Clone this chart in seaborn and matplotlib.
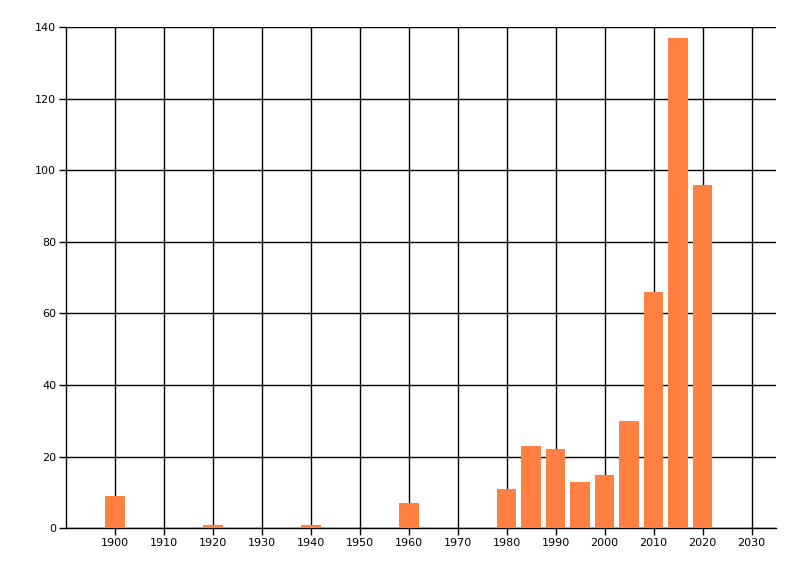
import matplotlib
matplotlib.use("Agg")
import matplotlib.pyplot as plt
import seaborn as sns
import pandas as pd

# --- DATA ---
years = [1900, 1920, 1940, 1960, 1980, 1985, 1990, 1995, 2000, 2005, 2010, 2015, 2020]
counts = [9, 1, 1, 7, 11, 23, 22, 13, 15, 30, 66, 137, 96]
x_ticks = list(range(1900, 2031, 10))
y_ticks = list(range(0, 141, 20))

BAR_COLOR = "#FF8040"

sns.set_style("white")
plt.rcParams['font.family'] = ['DejaVu Sans']

df = pd.DataFrame({"year": years, "count": counts})

fig, ax = plt.subplots(figsize=(8, 5.76), dpi=100)
fig.subplots_adjust(left=0.0825, right=0.97, top=0.953, bottom=0.083)

# bars on their real year positions, width 0.8 of the 5-year step
sns.barplot(data=df, x="year", y="count", native_scale=True, color=BAR_COLOR,
            saturation=1, width=0.8, linewidth=0, edgecolor="none", ax=ax, zorder=3)

ax.set_xlim(1890, 2035)
ax.set_ylim(0, 140)
ax.set_xticks(x_ticks)
ax.set_yticks(y_ticks)
ax.set_xticklabels([str(t) for t in x_ticks])
ax.set_xlabel("")
ax.set_ylabel("")

ax.grid(True, color="black", linewidth=1, zorder=0)
ax.set_axisbelow(True)

for s in ["top", "right"]:
    ax.spines[s].set_visible(False)
for s in ["left", "bottom"]:
    ax.spines[s].set_color("black")
    ax.spines[s].set_linewidth(1)

ax.tick_params(axis="both", which="both", length=5, width=1, color="black",
               labelcolor="black", labelsize=8, left=True, bottom=True, pad=2)

plt.savefig("out.png", dpi=100)
